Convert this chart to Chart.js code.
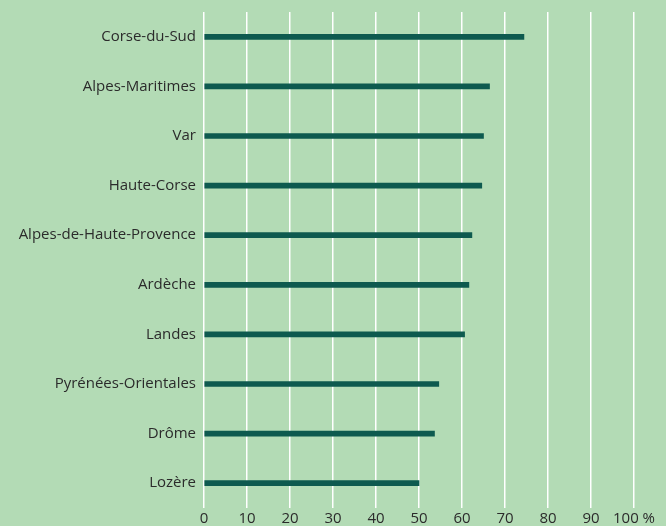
<!DOCTYPE html>
<html lang="fr">
<head>
<meta charset="utf-8">
<script src="https://cdn.jsdelivr.net/npm/chart.js@4"></script>
<style>
    html, body { margin: 0; padding: 0; background: #b3dbb5; }
    #wrap { width: 666px; height: 526px; position: relative; }
</style>
</head>
<body>
<div id="wrap"><canvas id="chart"></canvas></div>
<script>
// Departments and share values (%)
const departements = [
    'Corse-du-Sud', 'Alpes-Maritimes', 'Var', 'Haute-Corse', 'Alpes-de-Haute-Provence',
    'Ardèche', 'Landes', 'Pyrénées-Orientales', 'Drôme', 'Lozère'
];
const valeurs = [74.4, 66.4, 65.0, 64.6, 62.3, 61.6, 60.6, 54.6, 53.6, 50.0];
const xMin = 0;
const xMax = 100;
const xStep = 10;

const ctx = document.getElementById('chart').getContext('2d');
new Chart(ctx, {
    type: 'bar',
    data: {
        labels: departements,
        datasets: [{
            data: valeurs,
            backgroundColor: '#0e5a4f',
            barThickness: 5,
            borderWidth: 0
        }]
    },
    options: {
        indexAxis: 'y',
        responsive: true,
        maintainAspectRatio: false,
        animation: false,
        layout: {
            padding: { top: 12, right: 32, bottom: 0, left: 0 }
        },
        plugins: {
            legend: { display: false },
            tooltip: { enabled: false }
        },
        scales: {
            x: {
                min: xMin,
                max: xMax,
                grid: {
                    color: '#ffffff',
                    lineWidth: 1.5,
                    drawTicks: false
                },
                border: { display: false },
                ticks: {
                    stepSize: xStep,
                    autoSkip: false,
                    padding: 2,
                    color: '#2b2b2b',
                    font: { family: 'Open Sans', size: 15 },
                    maxRotation: 0,
                    callback: function(value) {
                        return value === xMax ? value + ' %' : value;
                    }
                },
                afterFit: function(scale) {
                    scale.height = 18;
                }
            },
            y: {
                grid: { display: false, drawTicks: false },
                border: { display: false },
                ticks: {
                    padding: 8,
                    color: '#2b2b2b',
                    font: { family: 'Open Sans', size: 15 }
                },
                afterFit: function(scale) {
                    scale.width = 204;
                    // labels sit in band centres, no extra room needed
                    scale.paddingTop = 0;
                    scale.paddingBottom = 0;
                }
            }
        }
    }
});
</script>
</body>
</html>
